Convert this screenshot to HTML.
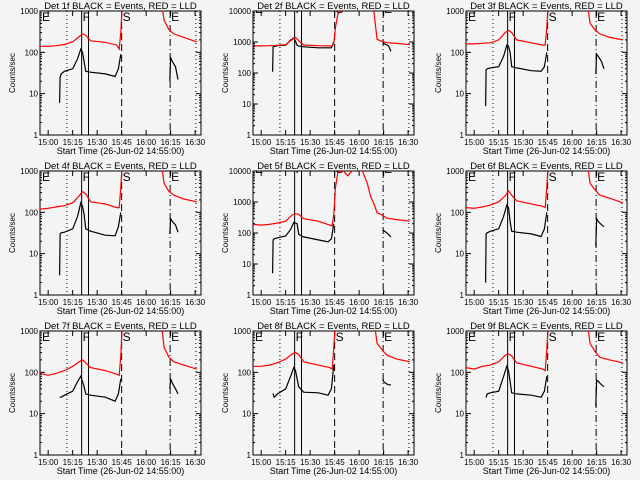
<!DOCTYPE html>
<html><head><meta charset="utf-8"><style>
html,body{margin:0;padding:0;background:#f4f4f4;}
svg{display:block;font-family:"Liberation Sans",sans-serif;}
</style></head><body>
<svg id="c" width="640" height="480" viewBox="0 0 640 480"></svg>
<script>
// shared time samples (minutes since 14:55:00)
const RT_A=[0,5,10,15,20,24,26,28,31,40,47,48.5,49.5,50.5];
const RT_B=[74,76,79,82,88,96];
const BT_A=[12,12.3,13,15,20,23,25,26,27,28,31,40,46,48,49.5];
const BT_B=[79.5,80,81,83,84.5];
const MID2_T=[52,55,58,62,66,70,72];
const MID5_T=[52,55,58,61,64,67,70,72];
const tickLabels=["15:00","15:15","15:30","15:45","16:00","16:15","16:30"];
const tickMinutes=[5,20,35,50,65,80,95];
const markerMinutes=[16.5,25.5,29.7,50,79.7,95.5];
const panelNames=["1f","2f","3f","4f","5f","6f","7f","8f","9f"];
const yMaxes=[1000,10000,1000,1000,10000,1000,1000,1000,1000];
const red1A=[140,140,145,155,180,240,280,260,190,175,150,120,300,2000];
const red1B=[2000,600,350,280,230,180];
const red2A=[750,750,760,780,820,1200,1400,1100,800,760,750,750,900,3000];
const red2M=[8000,11000,10500,11000,12000,12000,11000];
const red2B=[10000,1200,1050,950,900,820];
const red3A=[160,160,165,170,200,300,340,300,200,170,150,150,400,2000];
const red3B=[2000,500,350,280,230,200];
const red4A=[120,125,135,145,170,250,320,280,180,160,130,130,400,2000];
const red4B=[2000,500,320,260,210,180];
const red5A=[190,180,190,210,240,380,420,400,290,240,180,170,400,3000];
const red5M=[9000,10500,7000,10500,12000,10000,4000,1500];
const red5B=[900,450,380,300,270,240];
const red6A=[130,125,135,150,180,250,330,260,190,160,140,130,400,2000];
const red6B=[2000,500,350,260,220,170];
const red7A=[95,85,95,110,140,180,200,170,130,110,90,85,250,2000];
const red7B=[2000,400,230,180,150,120];
const red8A=[140,140,150,170,210,280,300,270,180,150,130,120,400,2000];
const red8B=[2000,500,350,260,210,180];
const red9A=[130,120,140,150,180,260,280,250,170,140,120,110,350,2000];
const red9B=[2000,500,320,230,200,170];
const blk1A=[6,25,30,35,40,70,120,100,60,35,33,30,26,40,90];
const blk1B=[20,75,60,45,22];
const blk2A=[110,700,720,760,790,1150,1350,1050,780,740,700,650,650,650,1000];
const blk2B=[1000,900,850,750,500];
const blk3A=[5,38,40,42,45,80,150,140,100,45,42,36,35,45,100];
const blk3B=[30,90,80,60,40];
const blk4A=[3,30,32,33,40,80,170,140,90,40,35,28,27,45,100];
const blk4B=[30,70,60,50,33];
const blk5A=[5,60,65,70,80,130,220,210,200,90,75,60,52,65,200];
const blk5B=[120,120,110,90,75];
const blk6A=[2,30,32,35,40,80,150,130,60,35,33,30,26,40,100];
const blk6B=[15,70,60,50,45];
const blk7A=[25,25,25,28,35,60,80,60,45,30,28,25,20,30,70];
const blk7B=[40,70,55,40,30];
const blk8A=[30,30,25,30,40,80,130,110,70,45,33,32,28,40,150];
const blk8B=[70,60,55,50,50];
const blk9A=[25,25,30,32,35,80,140,110,60,32,30,28,25,35,80];
const blk9B=[15,65,60,50,45];
const redA=[red1A,red2A,red3A,red4A,red5A,red6A,red7A,red8A,red9A];
const redB=[red1B,red2B,red3B,red4B,red5B,red6B,red7B,red8B,red9B];
const redM=[null,red2M,null,null,red5M,null,null,null,null];
const midT=[null,MID2_T,null,null,MID5_T,null,null,null,null];
const blkA=[blk1A,blk2A,blk3A,blk4A,blk5A,blk6A,blk7A,blk8A,blk9A];
const blkB=[blk1B,blk2B,blk3B,blk4B,blk5B,blk6B,blk7B,blk8B,blk9B];

const NS="http://www.w3.org/2000/svg";
const svg=document.getElementById("c");
function mk(tag,attrs,parent){const e=document.createElementNS(NS,tag);for(const k in attrs)e.setAttribute(k,attrs[k]);(parent||svg).appendChild(e);return e;}
const W=161,H=124,T0=0,T1=98.6;
for(let p=0;p<9;p++){
  const col=p%3,row=Math.floor(p/3);
  const L=40+col*213,Tp=11+row*160,B=Tp+H;
  const ymax=yMaxes[p];
  const xs=t=>L+(t-T0)/(T1-T0)*W;
  const ys=v=>B-Math.log10(v)/Math.log10(ymax)*H;
  const g=mk("g",{});
  
  
  const cp=mk("clipPath",{id:"cp"+p},g);mk("rect",{x:L,y:Tp,width:W,height:H},cp);
  const title=mk("text",{x:L+W/2,y:Tp-2,"text-anchor":"middle","font-size":"9.5",fill:"#000"},g);
  title.textContent="Det "+panelNames[p]+" BLACK = Events, RED = LLD";
  
  
  const frame=mk("rect",{x:L,y:Tp,width:W,height:H,fill:"none",stroke:"#000","stroke-width":1},g);
  
  
  // y ticks
  const ndec=Math.round(Math.log10(ymax));
  for(let d=0;d<=ndec;d++){
    const v=Math.pow(10,d),y=ys(v);
    mk("line",{x1:L,x2:L+5,y1:y,y2:y,stroke:"#000"},g);
    mk("line",{x1:L+W-5,x2:L+W,y1:y,y2:y,stroke:"#000"},g);
    for(let m=2;m<10&&d<ndec;m++){const ym=ys(v*m);
      mk("line",{x1:L,x2:L+2,y1:ym,y2:ym,stroke:"#000"},g);
      mk("line",{x1:L+W-2,x2:L+W,y1:ym,y2:ym,stroke:"#000"},g);}
    const tl=mk("text",{x:L-2,y:y+3,"text-anchor":"end","font-size":"8",fill:"#000"},g);
    tl.textContent=String(v);
    
    
  }
  const yl=mk("text",{x:0,y:0,transform:`translate(${L-25},${Tp+H/2}) rotate(-90)`,"text-anchor":"middle","font-size":"8",fill:"#000"},g);
  yl.textContent="Counts/sec";
  
  
  // x ticks
  tickMinutes.forEach((m,i)=>{const x=xs(m);
    mk("line",{x1:x,x2:x,y1:B,y2:B-5,stroke:"#000"},g);
    mk("line",{x1:x,x2:x,y1:Tp,y2:Tp+5,stroke:"#000"},g);
    const xl=mk("text",{x:x,y:B+10,"text-anchor":"middle","font-size":"8",fill:"#000"},g);
    xl.textContent=tickLabels[i];
    
    
  });
  const xt=mk("text",{x:L+W/2,y:B+19,"text-anchor":"middle","font-size":"9",fill:"#000"},g);
  xt.textContent="Start Time (26-Jun-02 14:55:00)";
  
  
  const cg=mk("g",{"clip-path":`url(#cp${p})`},g);
  // markers
  const styles=[{d:"1,3"},{d:""},{d:""},{d:"7,4"},{d:"7,3,1,3"},{d:"1,3"}];
  markerMinutes.forEach((m,i)=>{const x=xs(m);
    const ln=mk("line",{x1:x,x2:x,y1:Tp,y2:B,stroke:"#000","stroke-width":1,"stroke-dasharray":styles[i].d},cg);
    
    
  });
  const labY=ymax>1000?Tp+2:Tp+10;
  [[L+2,"E"],[xs(markerMinutes[1])+1,"F"],[xs(50)+1,"S"],[xs(79.7)+1,"E"]].forEach(a=>{
    const t=mk("text",{x:a[0],y:labY,"font-size":"12",fill:"#000"},cg);
    t.textContent=a[1];
    
    
  });
  const path=(T,V)=>T.map((t,i)=>xs(t).toFixed(1)+","+ys(V[i]).toFixed(1)).join(" ");
  const b1=mk("polyline",{points:path(BT_A,blkA[p]),fill:"none",stroke:"#000","stroke-width":1.2},cg);
  
  
  const b2=mk("polyline",{points:path(BT_B,blkB[p]),fill:"none",stroke:"#000","stroke-width":1.2},cg);
  
  
  let rt=RT_A.slice(),rv=redA[p].slice();
  if(redM[p]){rt=rt.concat(midT[p]);rv=rv.concat(redM[p]);rt=rt.concat(RT_B);rv=rv.concat(redB[p]);
    const r=mk("polyline",{points:path(rt,rv),fill:"none",stroke:"#f00","stroke-width":1.2},cg);
    
    
  } else {
    const r1=mk("polyline",{points:path(rt,rv),fill:"none",stroke:"#f00","stroke-width":1.2},cg);
    
    
    const r2=mk("polyline",{points:path(RT_B,redB[p]),fill:"none",stroke:"#f00","stroke-width":1.2},cg);
    
    
  }
}
</script>
</body></html>
